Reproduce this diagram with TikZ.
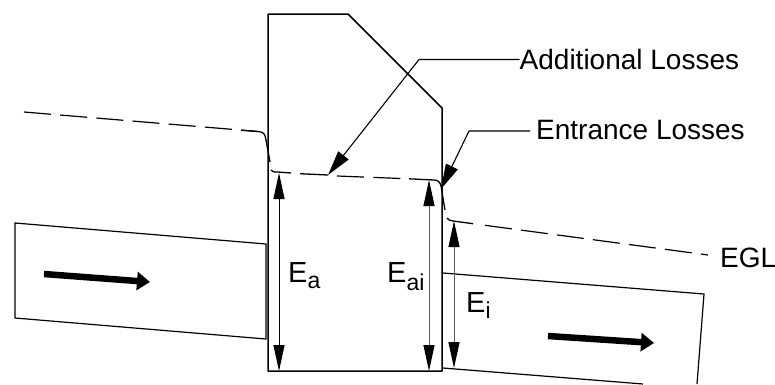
\documentclass[tikz,border=0pt]{standalone}
\usepackage{fontspec}
\setmainfont{Liberation Sans}
\usetikzlibrary{arrows.meta,positioning,calc}
\newcommand{\subE}[2][-6.5pt]{{\fontsize{29}{30}\selectfont E}\raisebox{#1}{\fontsize{23}{24}\selectfont #2}}
\tikzset{
    wall/.style={line width=1.5pt,line join=round},
    pipe/.style={line width=1.2pt,line join=miter},
    grade/.style={line width=1.2pt,dash pattern=on 27pt off 9.3pt},
    gradecurve/.style={line width=1.3pt},
    dimhead/.style={{Triangle[length=26pt,width=11pt,black]}-{Triangle[length=26pt,width=11pt,black]}},
    dimline/.style={line width=1pt,dimhead},
    leader/.style={line width=1.1pt,-{Triangle[length=25pt,width=13pt]}},
    flow/.style={line width=6.5pt,-{Triangle[length=13pt,width=18pt]}},
    label/.style={inner sep=0pt,anchor=base west,font=\fontsize{28}{30}\selectfont}
}
\begin{document}
\begin{tikzpicture}[x=1pt,y=-1pt]
    \useasboundingbox (0,0) rectangle (775,384);
    % box and pipes
    \draw[wall](268,14)--(348,14)--(442,108)--(442,371)--(268,371)--cycle;
    \draw[pipe](266,244)--(15,223)--(15,318)--(266,339)--cycle;
    \draw[pipe](443,273)--(704,294)--(697,384);
    \draw[pipe](443,368)--(643,384);
    % grade line
    \coordinate(g0) at (24,112);
    \coordinate(g1) at (328,175);
    \coordinate(g2) at (441,186);
    \coordinate(g3) at (708,255);
    \draw[grade](g0)--(258,131.5);
    \draw[gradecurve](241,130.2)--(258,131.5)..controls (264,132) and (265,134) .. (266,140)--(270,162);
    \draw[gradecurve](271,170)..controls (272,172) and (274,172) .. (278,172)--(291,173);
    \draw[gradecurve](300,173.7)--(g1);
    \draw[grade](337,176)--(409,178.8);
    \draw[gradecurve](409,178.8)--(434,180)..controls (438,180) and (440,182) .. (g2)--(445,210);
    \draw[gradecurve](447,218)..controls (448,220) and (450,220.5) .. (453,221)--(473,223.7);
    \draw[grade](485,225.3)--(g3);
    % heights
    \coordinate(ea0) at (279,173);
    \coordinate(ea1) at (279,371);
    \coordinate(eai0) at (429,180);
    \coordinate(eai1) at (429,371);
    \coordinate(ei0) at (454,221);
    \coordinate(ei1) at (454,368);
    \draw[dimline](ea0)--(ea1);
    \draw[dimline,black!65,dimhead](eai0)--(eai1);
    \draw[dimline,black!65,dimhead](ei0)--(ei1);
    \node[label](ea) at (288,282){\subE{a}};
    \node[label](eai) at (387,282){\subE[-8pt]{ai}};
    \node[label](ei) at (466,312){\subE{i}};
    % leaders
    \node[label](addl) at (519.5,69){Additional Losses};
    \node[label](entr) at (536,139){Entrance Losses};
    \node[label](egl) at (720,267){EGL};
    \coordinate(addlbend) at (419,59.5);
    \coordinate(entrbend) at (469,131);
    \draw[leader](addl.base west |- addlbend)--(addlbend)--(g1);
    \draw[leader]($(entr.base west |- entrbend)+(-6,0)$)--(entrbend)--(441,189);
    % flow
    \coordinate(fl0) at (44,274);
    \coordinate(fl1) at (150,282);
    \coordinate(fr0) at (548,336);
    \coordinate(fr1) at (654,343);
    \draw[flow](fl0)--(fl1);
    \draw[flow](fr0)--(fr1);
\end{tikzpicture}
\end{document}
